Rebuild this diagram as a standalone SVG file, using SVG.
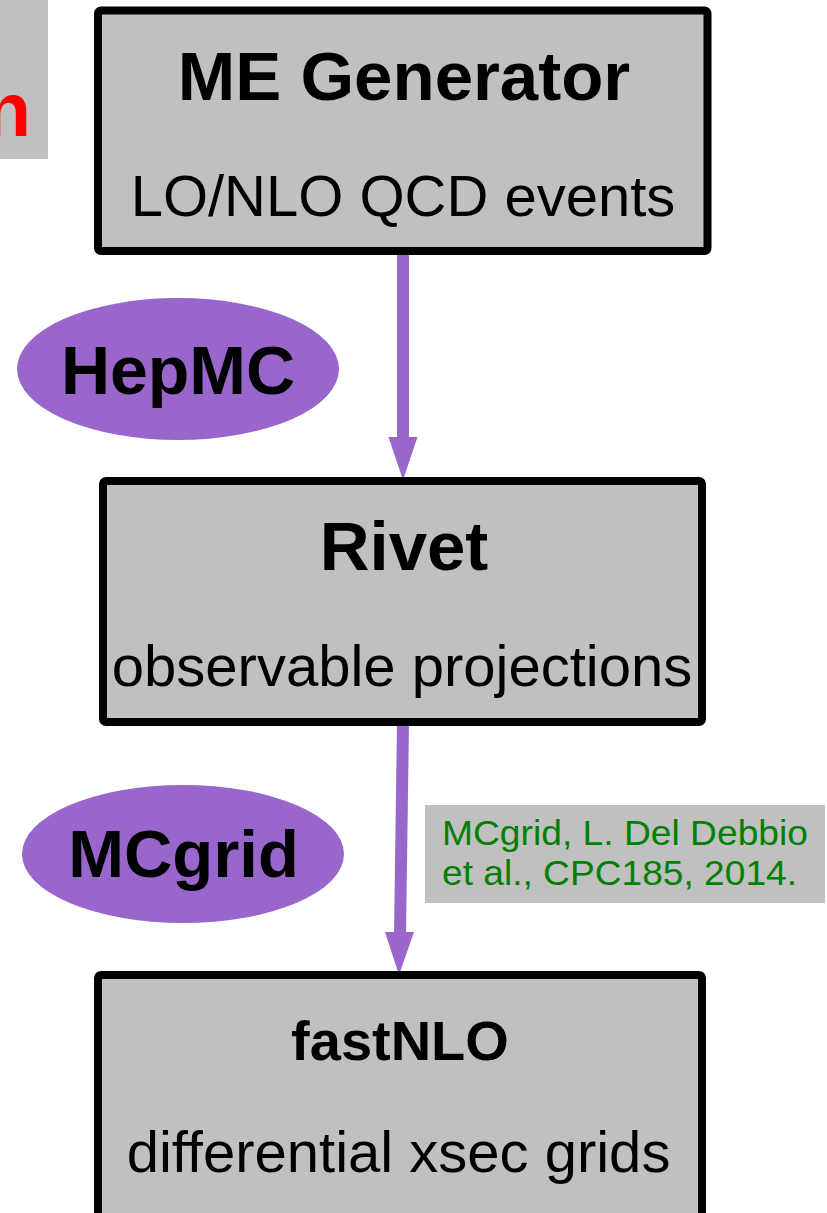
<svg xmlns="http://www.w3.org/2000/svg" width="827" height="1213" viewBox="0 0 827 1213">
  <defs>
    <style>
      .box { fill: #c0c0c0; stroke: #000000; stroke-width: 8; stroke-linejoin: round; }
      .oval { fill: #9966cc; }
      .t { font-family: "Liberation Sans", Arial, sans-serif; fill: #000000; text-anchor: middle; }
      .b { font-weight: bold; }
      .cite { font-family: "Liberation Sans", Arial, sans-serif; fill: #008000; font-size: 35px; }
      .conn { fill: none; stroke: #9966cc; stroke-width: 12; }
      .head { fill: #9966cc; }
    </style>
  </defs>
  <rect width="827" height="1213" fill="#ffffff"/>

  <g id="title-fragment">
    <rect x="0" y="0" width="48" height="159" fill="#c0c0c0"/>
    <text x="31" y="136" font-family="Liberation Sans, Arial, sans-serif" font-weight="bold" font-size="76" fill="#ff0000" text-anchor="end">n</text>
  </g>

  <g id="connectors">
    <line class="conn" x1="403" y1="252" x2="403" y2="440"/>
    <polygon class="head" points="388.5,437 417.5,437 403,480"/>
    <line class="conn" x1="403" y1="722" x2="400" y2="935"/>
    <polygon class="head" points="385,932 414,932 399,975"/>
  </g>

  <g id="me-generator">
    <rect class="box" x="98" y="10.5" width="609.5" height="240.5" rx="3"/>
    <text class="t b" x="404" y="100" font-size="69">ME Generator</text>
    <text class="t" x="403" y="216" font-size="58">LO/NLO QCD events</text>
  </g>

  <g id="hepmc">
    <ellipse class="oval" cx="178" cy="369" rx="161" ry="71"/>
    <text class="t b" x="178" y="394" font-size="68">HepMC</text>
  </g>

  <g id="rivet">
    <rect class="box" x="103" y="481" width="599" height="241" rx="3"/>
    <text class="t b" x="404" y="570" font-size="69">Rivet</text>
    <text class="t" x="402" y="686" font-size="58">observable projections</text>
  </g>

  <g id="mcgrid">
    <ellipse class="oval" cx="183" cy="854" rx="161" ry="69"/>
    <text class="t b" x="183.5" y="877" font-size="67">MCgrid</text>
  </g>

  <g id="citation">
    <rect x="425" y="805" width="400" height="98" fill="#c0c0c0"/>
    <text class="cite" x="442" y="845" textLength="366" lengthAdjust="spacingAndGlyphs">MCgrid, L. Del Debbio</text>
    <text class="cite" x="442" y="885" textLength="355" lengthAdjust="spacingAndGlyphs">et al., CPC185, 2014.</text>
  </g>

  <g id="fastnlo">
    <rect class="box" x="98" y="975" width="604" height="290" rx="3"/>
    <text class="t b" x="400" y="1060" font-size="56">fastNLO</text>
    <text class="t" x="398.5" y="1172" font-size="58">differential xsec grids</text>
  </g>
</svg>
